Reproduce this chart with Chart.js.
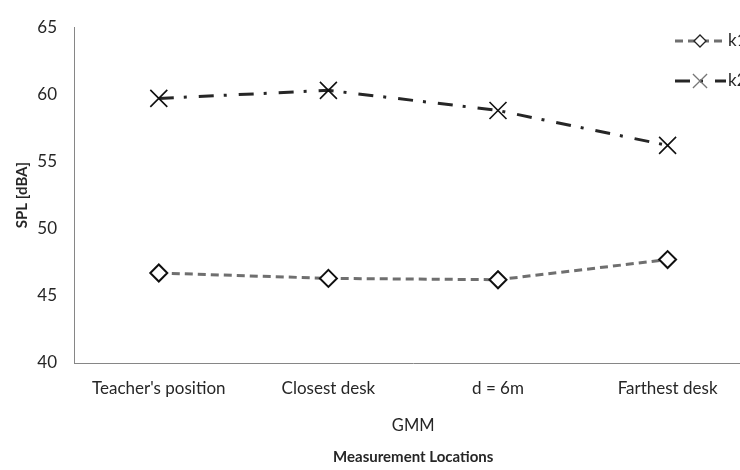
<!DOCTYPE html>
<html>
<head>
<meta charset="utf-8">
<script src="https://cdn.jsdelivr.net/npm/chart.js@4.4.1/dist/chart.umd.min.js"></script>
<style>
    html, body { margin: 0; padding: 0; background: #fff; overflow: hidden; }
    #wrap { width: 766px; height: 470px; position: relative; }
</style>
</head>
<body>
<div id="wrap"><canvas id="chart"></canvas></div>
<script>
const locations = ["Teacher's position", "Closest desk", "d = 6m", "Farthest desk"];
const k1Values = [46.7, 46.3, 46.2, 47.7];
const k2Values = [59.7, 60.3, 58.8, 56.2];
const yTicks = [40, 45, 50, 55, 60, 65];
const outerTitle = "Measurement Locations";

const FONT = "Lato, 'Liberation Sans', sans-serif";
const TEXT = "#262626";

// legend drawn by hand: dashed sample line with the marker in the middle
const sideLegend = {
    id: "sideLegend",
    afterDraw(chart) {
        const ctx = chart.ctx;
        const rows = [41, 81];
        chart.data.datasets.forEach((ds, i) => {
            const y = rows[i];
            ctx.save();
            ctx.strokeStyle = ds.borderColor;
            ctx.lineWidth = ds.borderWidth;
            ctx.setLineDash(ds.borderDash);
            ctx.beginPath();
            ctx.moveTo(675, y);
            ctx.lineTo(726, y);
            ctx.stroke();
            ctx.restore();

            ctx.save();
            ctx.fillStyle = "#fff";
            ctx.strokeStyle = ds.legendMarkerColor;
            ctx.lineWidth = 1.3;
            Chart.helpers.drawPoint(ctx, {
                pointStyle: ds.pointStyle,
                radius: ds.legendMarkerRadius,
                rotation: 0,
                borderWidth: 1.3
            }, 700, y);
            ctx.restore();

            ctx.save();
            ctx.fillStyle = TEXT;
            ctx.font = "17px " + FONT;
            ctx.textBaseline = "middle";
            ctx.textAlign = "left";
            ctx.fillText(ds.label, 728, y);
            ctx.restore();
        });

        // second x title, centred under the plot area
        const area = chart.chartArea;
        ctx.save();
        ctx.fillStyle = TEXT;
        ctx.font = "bold 15px " + FONT;
        ctx.textAlign = "center";
        ctx.textBaseline = "middle";
        ctx.fillText(outerTitle, (area.left + area.right) / 2, 457);
        ctx.restore();
    }
};

new Chart(document.getElementById("chart"), {
    type: "line",
    data: {
        labels: locations,
        datasets: [
            {
                label: "k1",
                data: k1Values,
                borderColor: "#6f6f6f",
                borderWidth: 3,
                borderDash: [8, 5],
                pointStyle: "rectRot",
                pointRadius: 8.5,
                pointBorderWidth: 2,
                pointBorderColor: "#111",
                pointBackgroundColor: "#fff",
                legendMarkerColor: "#222",
                legendMarkerRadius: 6,
                tension: 0
            },
            {
                label: "k2",
                data: k2Values,
                borderColor: "#262626",
                borderWidth: 3,
                borderDash: [15, 10, 3, 12],
                pointStyle: "crossRot",
                pointRadius: 12,
                pointBorderWidth: 1.6,
                pointBorderColor: "#111",
                pointBackgroundColor: "#fff",
                legendMarkerColor: "#777",
                legendMarkerRadius: 10,
                tension: 0
            }
        ]
    },
    options: {
        responsive: true,
        maintainAspectRatio: false,
        animation: false,
        layout: { padding: { left: 0, top: 16, right: 4, bottom: 0 } },
        plugins: {
            legend: { display: false },
            tooltip: { enabled: false }
        },
        scales: {
            x: {
                offset: true,
                grid: { display: false, drawTicks: false, offset: true },
                border: { display: true, color: "#868686", width: 1 },
                ticks: {
                    color: TEXT,
                    font: { family: FONT, size: 17 },
                    padding: 15,
                    maxRotation: 0,
                    autoSkip: false
                },
                title: {
                    display: true,
                    text: "GMM",
                    color: TEXT,
                    font: { family: FONT, size: 16.5 },
                    padding: { top: 0, bottom: 34 }
                },
                afterFit: (scale) => { scale.height = 107; }
            },
            y: {
                min: 40,
                max: 65,
                afterBuildTicks: (scale) => { scale.ticks = yTicks.map(v => ({ value: v })); },
                grid: { display: false, drawTicks: false },
                border: { display: true, color: "#868686", width: 1 },
                ticks: {
                    color: TEXT,
                    font: { family: FONT, size: 17 },
                    padding: 17
                },
                title: {
                    display: true,
                    text: "SPL [dBA]",
                    color: TEXT,
                    font: { family: FONT, size: 15, weight: "bold" },
                    padding: { top: 13, bottom: 0 }
                },
                afterFit: (scale) => { scale.width = 74; }
            }
        }
    },
    plugins: [sideLegend]
});
</script>
</body>
</html>
